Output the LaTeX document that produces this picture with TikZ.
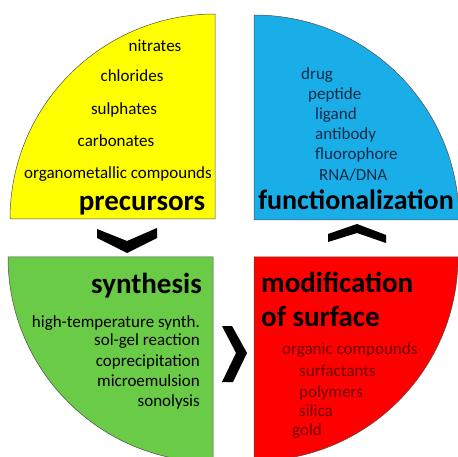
\documentclass[tikz,border=0pt]{standalone}
\usepackage{tikz}
\usepackage{fontspec}
\setmainfont{Carlito}
\definecolor{qyellow}{HTML}{FFFF00}
\definecolor{qblue}{HTML}{1AAEE8}
\definecolor{qgreen}{HTML}{6ACB46}
\definecolor{qred}{HTML}{FF0000}
\definecolor{navytext}{HTML}{0E2A47}
\definecolor{maroontext}{HTML}{6E0000}
\tikzset{
  quarter/.style={draw=black!70, line width=0.5pt},
  chevron/.style={fill=black},
  item/.style={inner sep=0pt, font=\fontsize{17}{20}\selectfont},
  heading/.style={inner sep=0pt, font=\fontsize{29}{32}\selectfont\bfseries}
}

\begin{document}
\begin{tikzpicture}[x=1pt,y=1pt]
\useasboundingbox (0,0) rectangle (458,-457);
\clip (0,0) rectangle (458,-457);
% quarter discs
\draw [quarter, fill=qyellow] (215,-219) -- (10,-219) arc[start angle=180, end angle=90, radius=205] -- cycle;
\draw [quarter, fill=qblue] (254,-220) -- (254,-15) arc[start angle=90, end angle=0, radius=205] -- cycle;
\draw [quarter, fill=qgreen] (213,-257) -- (8,-257) arc[start angle=180, end angle=270, radius=205] -- cycle;
\draw [quarter, fill=qred] (254,-257) -- (458,-257) arc[start angle=0, end angle=-90, radius=204] -- cycle;
% chevrons
\fill [chevron] (97,-229) -- (127,-241) -- (157,-228) -- (157,-238) -- (127,-253) -- (97,-238) -- cycle;
\fill [chevron] (222,-326) -- (232,-326) -- (247,-353) -- (233,-382) -- (222,-382) -- (236,-353) -- cycle;
\fill [chevron] (328,-234) -- (357,-224) -- (386,-235) -- (386,-243) -- (357,-233) -- (328,-242) -- cycle;
% precursors
\node [item, anchor=base] (nitrates) at (155,-51.7) {nitrates};
\node [item, anchor=base] (chlorides) at (132,-81.7) {chlorides};
\node [item, anchor=base] (sulphates) at (124,-115) {sulphates};
\node [item, anchor=base] (carbonates) at (116,-146.7) {carbonates};
\node [item, anchor=base] (organometallic) at (118,-179) {organometallic compounds};
\node [heading, anchor=base] (precursors) at (142,-210.7) {precursors};
% functionalization
\node [item, anchor=base west, text=navytext] (drug) at (301,-80) {drug};
\node [item, anchor=base west, text=navytext] (peptide) at (308,-100) {peptide};
\node [item, anchor=base west, text=navytext] (ligand) at (315,-119.3) {ligand};
\node [item, anchor=base west, text=navytext] (antibody) at (315,-140) {antibody};
\node [item, anchor=base west, text=navytext] (fluorophore) at (315,-159.3) {fluorophore};
\node [item, anchor=base west, text=navytext] (rnadna) at (319,-181) {RNA/DNA};
\node [heading, anchor=base, font=\fontsize{28}{32}\selectfont\bfseries] (functionalization) at (356,-209.3) {functionalization};
% synthesis
\node [heading, anchor=base east] (synthesis) at (202,-294) {synthesis};
\node [item, anchor=base east] (hightemp) at (200,-327.3) {high-temperature synth.};
\node [item, anchor=base east] (solgel) at (200,-345.7) {sol-gel reaction};
\node [item, anchor=base east] (coprecip) at (200,-366.7) {coprecipitation};
\node [item, anchor=base east] (microemul) at (200,-386) {microemulsion};
\node [item, anchor=base east] (sonolysis) at (200,-406) {sonolysis};
% modification of surface
\node [heading, anchor=base west] (modification) at (261,-293) {modification};
\node [heading, anchor=base west] (ofsurface) at (261,-326) {of surface};
\node [item, anchor=base west, text=maroontext] (organic) at (282,-354) {organic compounds};
\node [item, anchor=base west, text=maroontext] (surfactants) at (299,-376) {surfactants};
\node [item, anchor=base west, text=maroontext] (polymers) at (299,-397) {polymers};
\node [item, anchor=base west, text=maroontext] (silica) at (299,-416) {silica};
\node [item, anchor=base west, text=maroontext] (gold) at (292,-435.5) {gold};
\end{tikzpicture}
\end{document}
